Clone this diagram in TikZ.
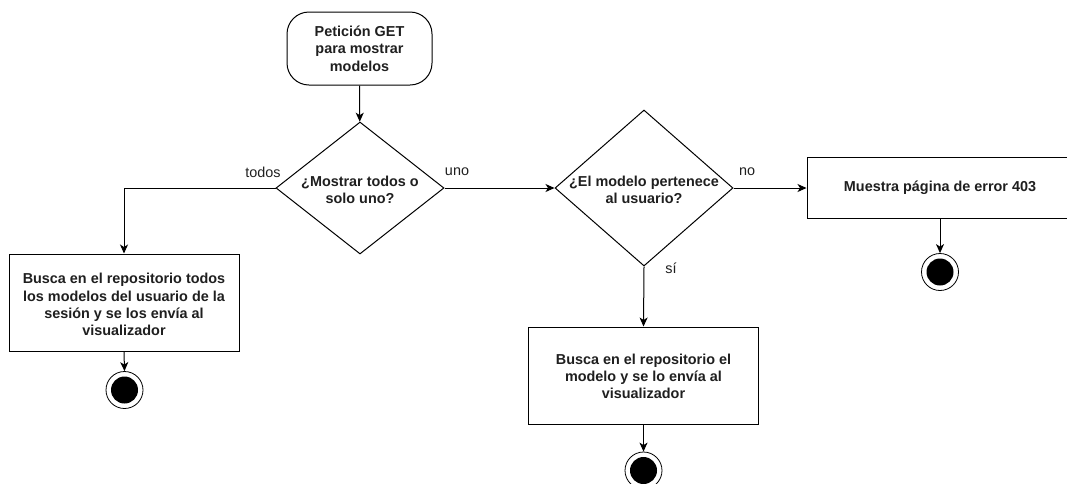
\documentclass[tikz,border=0pt]{standalone}
\usepackage{fontspec}
\setmainfont{Liberation Sans}
\usetikzlibrary{shapes.geometric,arrows.meta}

\begin{document}
\begin{tikzpicture}[x=1pt,y=-1pt,
  every node/.style={font=\fontsize{14.4}{17.3}\selectfont, text=black!88},
  bold/.style={font=\fontsize{14.4}{17.3}\selectfont\bfseries, align=center},
  startbox/.style={draw, line width=1pt, rounded corners=22pt, inner sep=0pt,
    minimum width=145pt, minimum height=73pt},
  actbox/.style={draw, line width=1pt, inner sep=0pt, fill=white},
  decision/.style={draw, diamond, line width=1pt, inner sep=0pt},
  endnode/.style={draw, circle, line width=0.8pt, inner sep=0pt, minimum size=37pt,
    path picture={\fill[black] (path picture bounding box.center) circle (13.5pt);}},
  flow/.style={line width=1pt, -{Stealth[length=9pt,width=8pt,inset=2.5pt]}},
  edgelabel/.style={font=\fontsize{14.4}{17.3}\selectfont, inner sep=0pt}
]
\useasboundingbox (0,0) rectangle (1067,483);

% start of the flow
\node[startbox] (start) at (359.5,48.5) {};
\node[bold] at (start) {Petición GET\\para mostrar\\modelos};

% decisions
\node[decision, minimum width=168pt, minimum height=132pt] (d1) at (360,188) {};
\node[bold] at ([yshift=-2pt]d1.center) {¿Mostrar todos o\\solo uno?};

\node[decision, minimum width=178pt, minimum height=156pt] (d2) at (644,188) {};
\node[bold] at ([yshift=-2pt]d2.center) {¿El modelo pertenece\\al usuario?};

% actions
\node[actbox, minimum width=230pt, minimum height=97pt] (all) at (124,302.5) {};
\node[bold] at ([yshift=-2pt]all.center) {Busca en el repositorio todos\\los modelos del usuario de la\\sesión y se los envía al\\visualizador};

\node[actbox, minimum width=266pt, minimum height=61pt] (err) at (940,188) {};
\node[bold] at (err) {Muestra página de error 403};

\node[actbox, minimum width=230pt, minimum height=97pt] (one) at (643.5,375.5) {};
\node[bold] at ([yshift=-1pt]one.center) {Busca en el repositorio el\\modelo y se lo envía al\\visualizador};

% final states
\node[endnode] (e1) at (124.5,390) {};
\node[endnode] (e2) at (940,272) {};
\node[endnode] (e3) at (643.5,470.5) {};

% connectors
\draw[flow] (start) -- (d1);
\draw[flow] (d1.west) -| (all.north);
\draw[flow] (d1.east) -- (d2.west);
\draw[flow] (d2.east) -- (err.west);
\draw[flow] (d2.south) -- (one.north);
\draw[flow] (all.south) -- (e1.north);
\draw[flow] (err.south) -- (e2.north);
\draw[flow] (one.south) -- (e3.north);

% branch labels
\node[edgelabel] (ltodos) at (263,172) {todos};
\node[edgelabel] (luno) at (457,172) {uno};
\node[edgelabel] (lno) at (747,172) {no};
\node[edgelabel] (lsi) at (671,268) {sí};
\end{tikzpicture}
\end{document}
